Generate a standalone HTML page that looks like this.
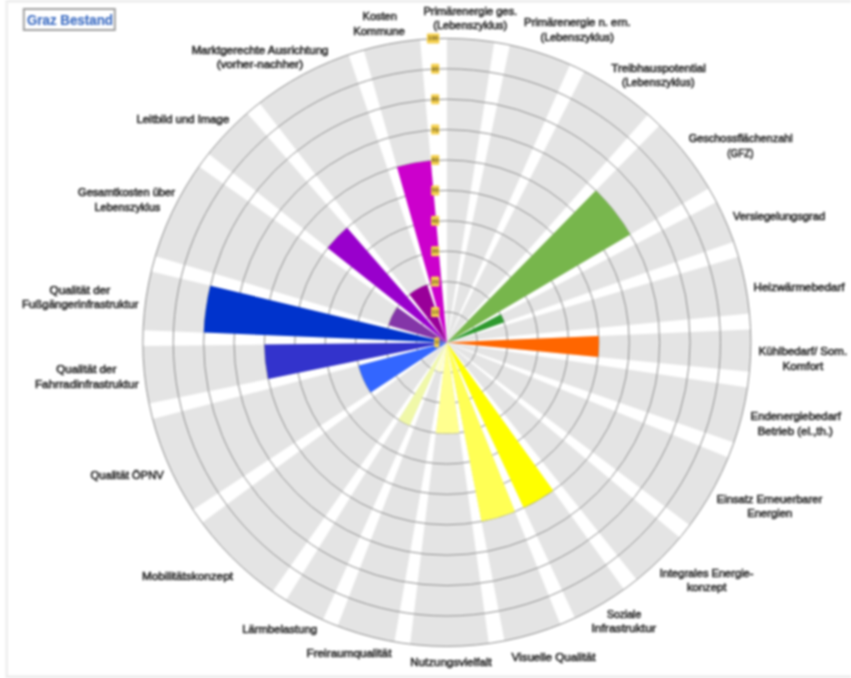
<!DOCTYPE html>
<html><head><meta charset="utf-8"><title>Graz Bestand</title>
<style>
html,body{margin:0;padding:0;background:#fff;}
body{width:851px;height:678px;overflow:hidden;position:relative;}
#w{position:absolute;left:0;top:0;width:851px;height:678px;filter:blur(0.8px);}
svg{display:block;}
</style></head><body>
<div id="w"><svg width="851" height="678" viewBox="0 0 851 678">
<rect x="0" y="0" width="851" height="678" fill="#fff"/>
<rect x="6" y="0" width="845" height="2.5" fill="#ebebeb"/>
<rect x="5.5" y="0" width="2.5" height="678" fill="#eeeeee"/>
<rect x="6" y="675.5" width="845" height="2.5" fill="#ebebeb"/>
<path d="M446.85,342.40L446.85,38.40A304.00,304.00 0 0 1 494.25,42.12Z M446.85,342.40L509.90,45.01A304.00,304.00 0 0 1 570.06,64.49Z M446.85,342.40L584.44,71.32A304.00,304.00 0 0 1 648.05,114.51Z M446.85,342.40L659.70,125.35A304.00,304.00 0 0 1 708.84,188.20Z M446.85,342.40L716.55,202.12A304.00,304.00 0 0 1 733.68,241.67Z M446.85,342.40L738.56,256.82A304.00,304.00 0 0 1 749.48,313.58Z M446.85,342.40L750.57,329.46A304.00,304.00 0 0 1 749.44,371.64Z M446.85,342.40L747.50,387.44A304.00,304.00 0 0 1 733.87,442.58Z M446.85,342.40L728.23,457.46A304.00,304.00 0 0 1 689.76,525.18Z M446.85,342.40L679.86,537.64A304.00,304.00 0 0 1 636.76,579.78Z M446.85,342.40L624.07,589.40A304.00,304.00 0 0 1 574.99,618.07Z M446.85,342.40L560.39,624.40A304.00,304.00 0 0 1 504.54,640.88Z M446.85,342.40L488.84,643.49A304.00,304.00 0 0 1 410.17,644.18Z M446.85,342.40L394.43,641.85A304.00,304.00 0 0 1 337.61,626.09Z M446.85,342.40L322.91,619.99A304.00,304.00 0 0 1 285.98,600.35Z M446.85,342.40L272.70,591.57A304.00,304.00 0 0 1 202.10,522.71Z M446.85,342.40L193.00,509.66A304.00,304.00 0 0 1 152.67,419.03Z M446.85,342.40L149.06,403.53A304.00,304.00 0 0 1 142.87,346.06Z M446.85,342.40L143.10,330.15A304.00,304.00 0 0 1 151.22,271.54Z M446.85,342.40L155.34,256.16A304.00,304.00 0 0 1 198.99,166.39Z M446.85,342.40L208.54,153.65A304.00,304.00 0 0 1 247.17,113.18Z M446.85,342.40L259.44,103.04A304.00,304.00 0 0 1 348.53,54.74Z M446.85,342.40L363.72,49.99A304.00,304.00 0 0 1 420.04,39.58Z" fill="#e4e4e4"/>
<circle cx="446.85" cy="342.4" r="30.40" fill="none" stroke="#8e8e8e" stroke-width="1"/>
<circle cx="446.85" cy="342.4" r="60.80" fill="none" stroke="#8e8e8e" stroke-width="1"/>
<circle cx="446.85" cy="342.4" r="91.20" fill="none" stroke="#8e8e8e" stroke-width="1"/>
<circle cx="446.85" cy="342.4" r="121.60" fill="none" stroke="#8e8e8e" stroke-width="1"/>
<circle cx="446.85" cy="342.4" r="152.00" fill="none" stroke="#8e8e8e" stroke-width="1"/>
<circle cx="446.85" cy="342.4" r="182.40" fill="none" stroke="#8e8e8e" stroke-width="1"/>
<circle cx="446.85" cy="342.4" r="212.80" fill="none" stroke="#8e8e8e" stroke-width="1"/>
<circle cx="446.85" cy="342.4" r="243.20" fill="none" stroke="#8e8e8e" stroke-width="1"/>
<circle cx="446.85" cy="342.4" r="273.60" fill="none" stroke="#8e8e8e" stroke-width="1"/>
<circle cx="446.85" cy="342.4" r="304.00" fill="none" stroke="#8e8e8e" stroke-width="1"/>
<path d="M446.85,342.40L595.84,190.46A212.80,212.80 0 0 1 630.24,234.46Z" fill="#77b64c"/>
<path d="M446.85,342.40L500.79,314.34A60.80,60.80 0 0 1 504.22,322.25Z" fill="#2e9a2e"/>
<path d="M446.85,342.40L598.71,335.93A152.00,152.00 0 0 1 598.15,357.02Z" fill="#ff6600"/>
<path d="M446.85,342.40L553.18,490.60A182.40,182.40 0 0 1 523.73,507.80Z" fill="#ffff00"/>
<path d="M446.85,342.40L514.97,511.60A182.40,182.40 0 0 1 481.47,521.49Z" fill="#ffff55"/>
<path d="M446.85,342.40L459.45,432.73A91.20,91.20 0 0 1 435.85,432.93Z" fill="#ffff8f"/>
<path d="M446.85,342.40L441.61,372.34A30.40,30.40 0 0 1 435.93,370.77Z" fill="#ffffcc"/>
<path d="M446.85,342.40L409.67,425.68A91.20,91.20 0 0 1 398.59,419.78Z" fill="#f0f8a8"/>
<path d="M446.85,342.40L370.69,392.58A91.20,91.20 0 0 1 358.59,365.39Z" fill="#3366ff"/>
<path d="M446.85,342.40L268.18,379.08A182.40,182.40 0 0 1 264.46,344.60Z" fill="#3333cc"/>
<path d="M446.85,342.40L203.85,332.60A243.20,243.20 0 0 1 210.35,285.71Z" fill="#0033cc"/>
<path d="M446.85,342.40L388.55,325.15A60.80,60.80 0 0 1 397.28,307.20Z" fill="#8435a8"/>
<path d="M446.85,342.40L327.70,248.03A152.00,152.00 0 0 1 347.01,227.79Z" fill="#9900cc"/>
<path d="M446.85,342.40L409.37,294.53A60.80,60.80 0 0 1 427.19,284.87Z" fill="#990099"/>
<path d="M446.85,342.40L396.97,166.95A182.40,182.40 0 0 1 430.76,160.71Z" fill="#cc00cc"/>
<g font-family="Liberation Sans, sans-serif"><rect x="434.30" y="337.40" width="5.0" height="10" rx="1.2" fill="#f5d04e"/><text x="436.80" y="344.40" font-size="6" font-weight="bold" text-anchor="middle" fill="#6a5a22">0</text><rect x="431.10" y="307.00" width="8.2" height="10" rx="1.2" fill="#f5d04e"/><text x="435.20" y="314.00" font-size="6" font-weight="bold" text-anchor="middle" fill="#6a5a22">10</text><rect x="431.10" y="276.60" width="8.2" height="10" rx="1.2" fill="#f5d04e"/><text x="435.20" y="283.60" font-size="6" font-weight="bold" text-anchor="middle" fill="#6a5a22">20</text><rect x="431.10" y="246.20" width="8.2" height="10" rx="1.2" fill="#f5d04e"/><text x="435.20" y="253.20" font-size="6" font-weight="bold" text-anchor="middle" fill="#6a5a22">30</text><rect x="431.10" y="215.80" width="8.2" height="10" rx="1.2" fill="#f5d04e"/><text x="435.20" y="222.80" font-size="6" font-weight="bold" text-anchor="middle" fill="#6a5a22">40</text><rect x="431.10" y="185.40" width="8.2" height="10" rx="1.2" fill="#f5d04e"/><text x="435.20" y="192.40" font-size="6" font-weight="bold" text-anchor="middle" fill="#6a5a22">50</text><rect x="431.10" y="155.00" width="8.2" height="10" rx="1.2" fill="#f5d04e"/><text x="435.20" y="162.00" font-size="6" font-weight="bold" text-anchor="middle" fill="#6a5a22">60</text><rect x="431.10" y="124.60" width="8.2" height="10" rx="1.2" fill="#f5d04e"/><text x="435.20" y="131.60" font-size="6" font-weight="bold" text-anchor="middle" fill="#6a5a22">70</text><rect x="431.10" y="94.20" width="8.2" height="10" rx="1.2" fill="#f5d04e"/><text x="435.20" y="101.20" font-size="6" font-weight="bold" text-anchor="middle" fill="#6a5a22">80</text><rect x="431.10" y="63.80" width="8.2" height="10" rx="1.2" fill="#f5d04e"/><text x="435.20" y="70.80" font-size="6" font-weight="bold" text-anchor="middle" fill="#6a5a22">90</text><rect x="426.90" y="33.40" width="12.4" height="10" rx="1.2" fill="#f5d04e"/><text x="433.10" y="40.40" font-size="6" font-weight="bold" text-anchor="middle" fill="#6a5a22">100</text></g>
<g font-family="Liberation Sans, sans-serif" font-size="11" fill="#303030" stroke="#303030" stroke-width="0.65"><text x="423.4" y="14.8" textLength="93.8" lengthAdjust="spacingAndGlyphs">Primärenergie ges.</text><text x="433.3" y="29.2" textLength="74.0" lengthAdjust="spacingAndGlyphs">(Lebenszyklus)</text><text x="523.9" y="26.1" textLength="106.8" lengthAdjust="spacingAndGlyphs">Primärenergie n. ern.</text><text x="540.5" y="40.5" textLength="73.3" lengthAdjust="spacingAndGlyphs">(Lebenszyklus)</text><text x="611.3" y="71.9" textLength="94.5" lengthAdjust="spacingAndGlyphs">Treibhauspotential</text><text x="621.9" y="86.3" textLength="72.6" lengthAdjust="spacingAndGlyphs">(Lebenszyklus)</text><text x="688.7" y="142.1" textLength="104.1" lengthAdjust="spacingAndGlyphs">Geschossflächenzahl</text><text x="727.2" y="156.5" textLength="26.4" lengthAdjust="spacingAndGlyphs">(GFZ)</text><text x="733.0" y="220.0" textLength="92.1" lengthAdjust="spacingAndGlyphs">Versiegelungsgrad</text><text x="753.5" y="290.6" textLength="91.0" lengthAdjust="spacingAndGlyphs">Heizwärmebedarf</text><text x="758.6" y="354.8" textLength="88.5" lengthAdjust="spacingAndGlyphs">Kühlbedarf/ Som.</text><text x="782.5" y="369.5" textLength="40.7" lengthAdjust="spacingAndGlyphs">Komfort</text><text x="750.6" y="420.3" textLength="90.3" lengthAdjust="spacingAndGlyphs">Endenergiebedarf</text><text x="757.7" y="434.7" textLength="75.2" lengthAdjust="spacingAndGlyphs">Betrieb (el.,th.)</text><text x="716.8" y="502.6" textLength="105.4" lengthAdjust="spacingAndGlyphs">Einsatz Erneuerbarer</text><text x="747.3" y="516.9" textLength="44.9" lengthAdjust="spacingAndGlyphs">Energien</text><text x="659.7" y="576.6" textLength="93.8" lengthAdjust="spacingAndGlyphs">Integrales Energie-</text><text x="686.9" y="591.0" textLength="39.5" lengthAdjust="spacingAndGlyphs">konzept</text><text x="607.0" y="617.8" textLength="34.2" lengthAdjust="spacingAndGlyphs">Soziale</text><text x="591.4" y="632.2" textLength="64.6" lengthAdjust="spacingAndGlyphs">Infrastruktur</text><text x="511.4" y="660.5" textLength="84.1" lengthAdjust="spacingAndGlyphs">Visuelle Qualität</text><text x="410.3" y="666.2" textLength="81.4" lengthAdjust="spacingAndGlyphs">Nutzungsvielfalt</text><text x="306.5" y="656.5" textLength="84.9" lengthAdjust="spacingAndGlyphs">Freiraumqualität</text><text x="242.3" y="632.6" textLength="74.7" lengthAdjust="spacingAndGlyphs">Lärmbelastung</text><text x="142.0" y="580.0" textLength="91.0" lengthAdjust="spacingAndGlyphs">Mobilitätskonzept</text><text x="90.5" y="478.7" textLength="73.3" lengthAdjust="spacingAndGlyphs">Qualität ÖPNV</text><text x="56.3" y="373.1" textLength="60.1" lengthAdjust="spacingAndGlyphs">Qualität der</text><text x="34.9" y="387.5" textLength="103.7" lengthAdjust="spacingAndGlyphs">Fahrradinfrastruktur</text><text x="49.6" y="293.9" textLength="60.5" lengthAdjust="spacingAndGlyphs">Qualität der</text><text x="22.0" y="308.3" textLength="116.4" lengthAdjust="spacingAndGlyphs">Fußgängerinfrastruktur</text><text x="78.0" y="196.1" textLength="96.9" lengthAdjust="spacingAndGlyphs">Gesamtkosten über</text><text x="94.4" y="210.5" textLength="65.7" lengthAdjust="spacingAndGlyphs">Lebenszyklus</text><text x="136.5" y="122.6" textLength="92.7" lengthAdjust="spacingAndGlyphs">Leitbild und Image</text><text x="191.7" y="53.8" textLength="136.8" lengthAdjust="spacingAndGlyphs">Marktgerechte Ausrichtung</text><text x="216.7" y="68.2" textLength="86.4" lengthAdjust="spacingAndGlyphs">(vorher-nachher)</text><text x="362.6" y="20.3" textLength="34.2" lengthAdjust="spacingAndGlyphs">Kosten</text><text x="353.2" y="34.7" textLength="51.7" lengthAdjust="spacingAndGlyphs">Kommune</text></g>
<rect x="23.8" y="9" width="91" height="21" fill="#fff" stroke="#a0a0a0" stroke-width="2"/>
<text x="26.9" y="24.8" textLength="86.1" lengthAdjust="spacingAndGlyphs" font-family="Liberation Sans, sans-serif" font-size="14" font-weight="bold" fill="#4170c4" stroke="#4170c4" stroke-width="0.2">Graz Bestand</text>
</svg></div>
</body></html>
